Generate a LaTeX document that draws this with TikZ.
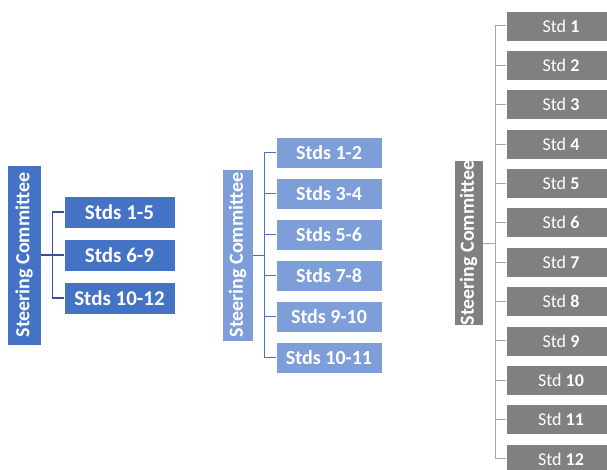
\documentclass[tikz,border=0pt]{standalone}
\usepackage{fontspec}
\setmainfont{Carlito}
\usetikzlibrary{positioning, calc}

\definecolor{darkblue}{HTML}{4472C4}
\definecolor{lightblue}{HTML}{7E9EDA}
\definecolor{boxgray}{HTML}{808080}
\definecolor{linegray}{HTML}{A6A6A6}
\definecolor{lineblue}{HTML}{2F5597}

\tikzset{
    stdbox/.style={fill=#1, draw=white, line width=0.6pt, text=white, inner sep=0pt},
    chair/.style={stdbox=#1, rotate=90, font=\fontsize{20}{24}\selectfont\bfseries},
}

\begin{document}
\begin{tikzpicture}[x=1pt, y=-1pt]
    \useasboundingbox (0,0) rectangle (607,470);

    % Left: three groups
    \node[chair=darkblue, minimum width=180pt, minimum height=34pt] (scA) at (24,255) {Steering Committee};
    \foreach \t [count=\i] in {1-5, 6-9, 10-12} {
        \node[stdbox=darkblue, minimum width=111pt, minimum height=32pt,
              font=\fontsize{21}{25}\selectfont\bfseries] (a\i) at (119.5, 169+43*\i) {Stds \t};
        \draw[lineblue, line width=1.2pt] (scA.south) -- ++(11,0) |- (a\i.west);
    }

    % Middle: six groups
    \node[chair=lightblue, minimum width=172pt, minimum height=31pt] (scB) at (237.5,255) {Steering Committee};
    \foreach \t [count=\i] in {1-2, 3-4, 5-6, 7-8, 9-10, 10-11} {
        \node[stdbox=lightblue, minimum width=106pt, minimum height=31pt,
              font=\fontsize{20}{24}\selectfont\bfseries] (b\i) at (329, 111.5+41*\i) {Stds \t};
        \draw[darkblue, line width=1pt] (scB.south) -- ++(11,0) |- (b\i.west);
    }

    % Right: twelve standards
    \node[chair=boxgray, minimum width=164pt, minimum height=29pt] (scC) at (468.5,243) {Steering Committee};
    \foreach \i in {1,...,12} {
        \node[stdbox=boxgray, minimum width=110pt, minimum height=30pt,
              font=\fontsize{18}{21}\selectfont] (c\i) at (561, -13.36+39.36*\i) {Std \textbf{\i}};
        \draw[linegray, line width=1pt] (scC.south) -- ++(12,0) |- (c\i.west);
    }
\end{tikzpicture}
\end{document}
